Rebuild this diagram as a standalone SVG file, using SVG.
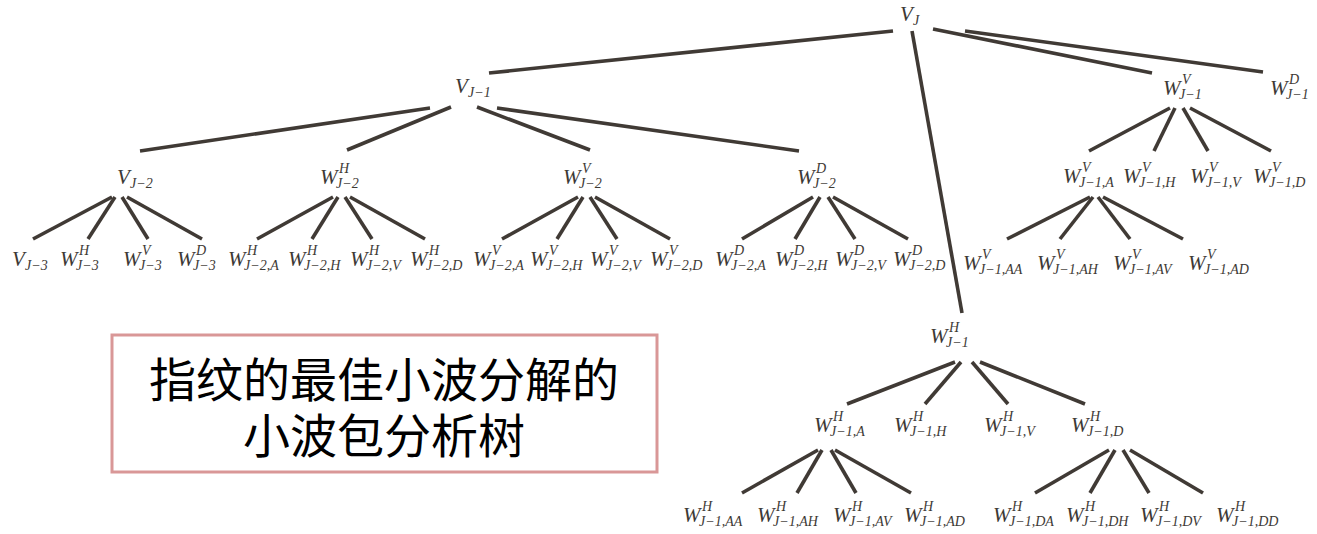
<svg xmlns="http://www.w3.org/2000/svg" width="1317" height="534" viewBox="0 0 1317 534">
<style>
.m{font-family:"Liberation Serif","Times New Roman",serif;font-style:italic;font-size:21px;fill:#3d3935}
.s{font-size:14px}
.e line{stroke:#403a35;stroke-width:3.6;stroke-linecap:butt}
.box{fill:#ffffff;stroke:#d99797;stroke-width:3}
.cn{font-family:"Noto Sans CJK SC","Noto Sans",sans-serif;font-size:47px;fill:#000000;text-anchor:middle}
</style>
<rect width="1317" height="534" fill="#ffffff"/>
<g id="connectors" class="e">
<line x1="893" y1="31" x2="489" y2="73"/>
<line x1="912" y1="31" x2="962" y2="313"/>
<line x1="933" y1="29" x2="1152" y2="73"/>
<line x1="965" y1="31" x2="1263" y2="72"/>
<line x1="430" y1="108" x2="140" y2="151"/>
<line x1="451" y1="107" x2="347" y2="150"/>
<line x1="477" y1="107" x2="590" y2="150"/>
<line x1="497" y1="108" x2="799" y2="151"/>
<line x1="1170" y1="108" x2="1089" y2="151"/>
<line x1="1175" y1="108" x2="1154" y2="151"/>
<line x1="1183" y1="108" x2="1208" y2="151"/>
<line x1="1190" y1="108" x2="1271" y2="151"/>
<line x1="112" y1="197" x2="33" y2="239"/>
<line x1="115" y1="197" x2="88" y2="239"/>
<line x1="122" y1="197" x2="148" y2="239"/>
<line x1="127" y1="197" x2="202" y2="239"/>
<line x1="333" y1="197" x2="257" y2="239"/>
<line x1="338" y1="197" x2="312" y2="239"/>
<line x1="345" y1="197" x2="372" y2="239"/>
<line x1="350" y1="197" x2="425" y2="239"/>
<line x1="578" y1="197" x2="502" y2="239"/>
<line x1="583" y1="197" x2="557" y2="239"/>
<line x1="590" y1="197" x2="617" y2="239"/>
<line x1="595" y1="197" x2="670" y2="239"/>
<line x1="813" y1="197" x2="742" y2="239"/>
<line x1="820" y1="197" x2="795" y2="239"/>
<line x1="828" y1="197" x2="855" y2="239"/>
<line x1="833" y1="197" x2="908" y2="239"/>
<line x1="1090" y1="197" x2="1007" y2="239"/>
<line x1="1093" y1="197" x2="1060" y2="239"/>
<line x1="1098" y1="197" x2="1130" y2="239"/>
<line x1="1103" y1="197" x2="1183" y2="239"/>
<line x1="955" y1="362" x2="847" y2="404"/>
<line x1="961" y1="362" x2="925" y2="404"/>
<line x1="972" y1="362" x2="1008" y2="404"/>
<line x1="980" y1="362" x2="1085" y2="404"/>
<line x1="818" y1="450" x2="742" y2="493"/>
<line x1="822" y1="450" x2="797" y2="493"/>
<line x1="831" y1="450" x2="856" y2="493"/>
<line x1="835" y1="450" x2="911" y2="493"/>
<line x1="1109" y1="450" x2="1035" y2="493"/>
<line x1="1115" y1="450" x2="1090" y2="493"/>
<line x1="1123" y1="450" x2="1149" y2="493"/>
<line x1="1130" y1="450" x2="1203" y2="493"/>
</g>
<g id="n-VJ"><text class="m" x="900" y="21">V<tspan class="s" x="913" y="25">J</tspan></text></g>
<g id="n-VJ1"><text class="m" x="455" y="93">V<tspan class="s" x="468" y="97">J−1</tspan></text></g>
<g id="n-WVJ1"><text class="m" x="1163" y="95">W<tspan class="s" x="1182" y="84">V</tspan><tspan class="s" x="1179" y="99">J−1</tspan></text></g>
<g id="n-WDJ1"><text class="m" x="1270" y="95">W<tspan class="s" x="1289" y="84">D</tspan><tspan class="s" x="1286" y="99">J−1</tspan></text></g>
<g id="n-WHJ1"><text class="m" x="930" y="343">W<tspan class="s" x="949" y="332">H</tspan><tspan class="s" x="946" y="347">J−1</tspan></text></g>

<g id="n-VJ2"><text class="m" x="117" y="184">V<tspan class="s" x="130" y="188">J−2</tspan></text></g>
<g id="n-WHJ2"><text class="m" x="320" y="184">W<tspan class="s" x="339" y="173">H</tspan><tspan class="s" x="336" y="188">J−2</tspan></text></g>
<g id="n-WVJ2"><text class="m" x="563" y="184">W<tspan class="s" x="582" y="173">V</tspan><tspan class="s" x="579" y="188">J−2</tspan></text></g>
<g id="n-WDJ2"><text class="m" x="797" y="184">W<tspan class="s" x="816" y="173">D</tspan><tspan class="s" x="813" y="188">J−2</tspan></text></g>
<g id="n-WVJ1A"><text class="m" x="1063" y="183">W<tspan class="s" x="1082" y="172">V</tspan><tspan class="s" x="1079" y="187">J−1,A</tspan></text></g>
<g id="n-WVJ1H"><text class="m" x="1123" y="183">W<tspan class="s" x="1142" y="172">V</tspan><tspan class="s" x="1139" y="187">J−1,H</tspan></text></g>
<g id="n-WVJ1V"><text class="m" x="1190" y="183">W<tspan class="s" x="1209" y="172">V</tspan><tspan class="s" x="1206" y="187">J−1,V</tspan></text></g>
<g id="n-WVJ1D"><text class="m" x="1253" y="183">W<tspan class="s" x="1272" y="172">V</tspan><tspan class="s" x="1269" y="187">J−1,D</tspan></text></g>

<g id="n-VJ3"><text class="m" x="12" y="266">V<tspan class="s" x="25" y="270">J−3</tspan></text></g>
<g id="n-WHJ3"><text class="m" x="60" y="266">W<tspan class="s" x="79" y="255">H</tspan><tspan class="s" x="76" y="270">J−3</tspan></text></g>
<g id="n-WVJ3"><text class="m" x="123" y="266">W<tspan class="s" x="142" y="255">V</tspan><tspan class="s" x="139" y="270">J−3</tspan></text></g>
<g id="n-WDJ3"><text class="m" x="177" y="266">W<tspan class="s" x="196" y="255">D</tspan><tspan class="s" x="193" y="270">J−3</tspan></text></g>
<g id="n-WHJ2A"><text class="m" x="228" y="266">W<tspan class="s" x="247" y="255">H</tspan><tspan class="s" x="244" y="270">J−2,A</tspan></text></g>
<g id="n-WHJ2H"><text class="m" x="288" y="266">W<tspan class="s" x="307" y="255">H</tspan><tspan class="s" x="304" y="270">J−2,H</tspan></text></g>
<g id="n-WHJ2V"><text class="m" x="350" y="266">W<tspan class="s" x="369" y="255">H</tspan><tspan class="s" x="366" y="270">J−2,V</tspan></text></g>
<g id="n-WHJ2D"><text class="m" x="410" y="266">W<tspan class="s" x="429" y="255">H</tspan><tspan class="s" x="426" y="270">J−2,D</tspan></text></g>
<g id="n-WVJ2A"><text class="m" x="473" y="266">W<tspan class="s" x="492" y="255">V</tspan><tspan class="s" x="489" y="270">J−2,A</tspan></text></g>
<g id="n-WVJ2H"><text class="m" x="530" y="266">W<tspan class="s" x="549" y="255">V</tspan><tspan class="s" x="546" y="270">J−2,H</tspan></text></g>
<g id="n-WVJ2V"><text class="m" x="590" y="266">W<tspan class="s" x="609" y="255">V</tspan><tspan class="s" x="606" y="270">J−2,V</tspan></text></g>
<g id="n-WVJ2D"><text class="m" x="650" y="266">W<tspan class="s" x="669" y="255">V</tspan><tspan class="s" x="666" y="270">J−2,D</tspan></text></g>
<g id="n-WDJ2A"><text class="m" x="715" y="266">W<tspan class="s" x="734" y="255">D</tspan><tspan class="s" x="731" y="270">J−2,A</tspan></text></g>
<g id="n-WDJ2H"><text class="m" x="775" y="266">W<tspan class="s" x="794" y="255">D</tspan><tspan class="s" x="791" y="270">J−2,H</tspan></text></g>
<g id="n-WDJ2V"><text class="m" x="835" y="266">W<tspan class="s" x="854" y="255">D</tspan><tspan class="s" x="851" y="270">J−2,V</tspan></text></g>
<g id="n-WDJ2D"><text class="m" x="893" y="266">W<tspan class="s" x="912" y="255">D</tspan><tspan class="s" x="909" y="270">J−2,D</tspan></text></g>

<g id="n-WVJ1AA"><text class="m" x="963" y="270">W<tspan class="s" x="982" y="259">V</tspan><tspan class="s" x="979" y="274">J−1,AA</tspan></text></g>
<g id="n-WVJ1AH"><text class="m" x="1037" y="270">W<tspan class="s" x="1056" y="259">V</tspan><tspan class="s" x="1053" y="274">J−1,AH</tspan></text></g>
<g id="n-WVJ1AV"><text class="m" x="1113" y="270">W<tspan class="s" x="1132" y="259">V</tspan><tspan class="s" x="1129" y="274">J−1,AV</tspan></text></g>
<g id="n-WVJ1AD"><text class="m" x="1188" y="270">W<tspan class="s" x="1207" y="259">V</tspan><tspan class="s" x="1204" y="274">J−1,AD</tspan></text></g>

<g id="n-WHJ1A"><text class="m" x="814" y="432">W<tspan class="s" x="833" y="421">H</tspan><tspan class="s" x="830" y="436">J−1,A</tspan></text></g>
<g id="n-WHJ1H"><text class="m" x="894" y="432">W<tspan class="s" x="913" y="421">H</tspan><tspan class="s" x="910" y="436">J−1,H</tspan></text></g>
<g id="n-WHJ1V"><text class="m" x="984" y="432">W<tspan class="s" x="1003" y="421">H</tspan><tspan class="s" x="1000" y="436">J−1,V</tspan></text></g>
<g id="n-WHJ1D"><text class="m" x="1071" y="432">W<tspan class="s" x="1090" y="421">H</tspan><tspan class="s" x="1087" y="436">J−1,D</tspan></text></g>

<g id="n-WHJ1AA"><text class="m" x="683" y="522">W<tspan class="s" x="702" y="511">H</tspan><tspan class="s" x="699" y="526">J−1,AA</tspan></text></g>
<g id="n-WHJ1AH"><text class="m" x="757" y="522">W<tspan class="s" x="776" y="511">H</tspan><tspan class="s" x="773" y="526">J−1,AH</tspan></text></g>
<g id="n-WHJ1AV"><text class="m" x="833" y="522">W<tspan class="s" x="852" y="511">H</tspan><tspan class="s" x="849" y="526">J−1,AV</tspan></text></g>
<g id="n-WHJ1AD"><text class="m" x="904" y="522">W<tspan class="s" x="923" y="511">H</tspan><tspan class="s" x="920" y="526">J−1,AD</tspan></text></g>
<g id="n-WHJ1DA"><text class="m" x="993" y="522">W<tspan class="s" x="1012" y="511">H</tspan><tspan class="s" x="1009" y="526">J−1,DA</tspan></text></g>
<g id="n-WHJ1DH"><text class="m" x="1066" y="522">W<tspan class="s" x="1085" y="511">H</tspan><tspan class="s" x="1082" y="526">J−1,DH</tspan></text></g>
<g id="n-WHJ1DV"><text class="m" x="1140" y="522">W<tspan class="s" x="1159" y="511">H</tspan><tspan class="s" x="1156" y="526">J−1,DV</tspan></text></g>
<g id="n-WHJ1DD"><text class="m" x="1216" y="522">W<tspan class="s" x="1235" y="511">H</tspan><tspan class="s" x="1232" y="526">J−1,DD</tspan></text></g>

<g id="caption">
<rect class="box" x="112" y="335" width="545" height="137"/>
<text class="cn" x="384" y="397">指纹的最佳小波分解的<tspan x="384" y="453">小波包分析树</tspan></text>
</g>
</svg>
